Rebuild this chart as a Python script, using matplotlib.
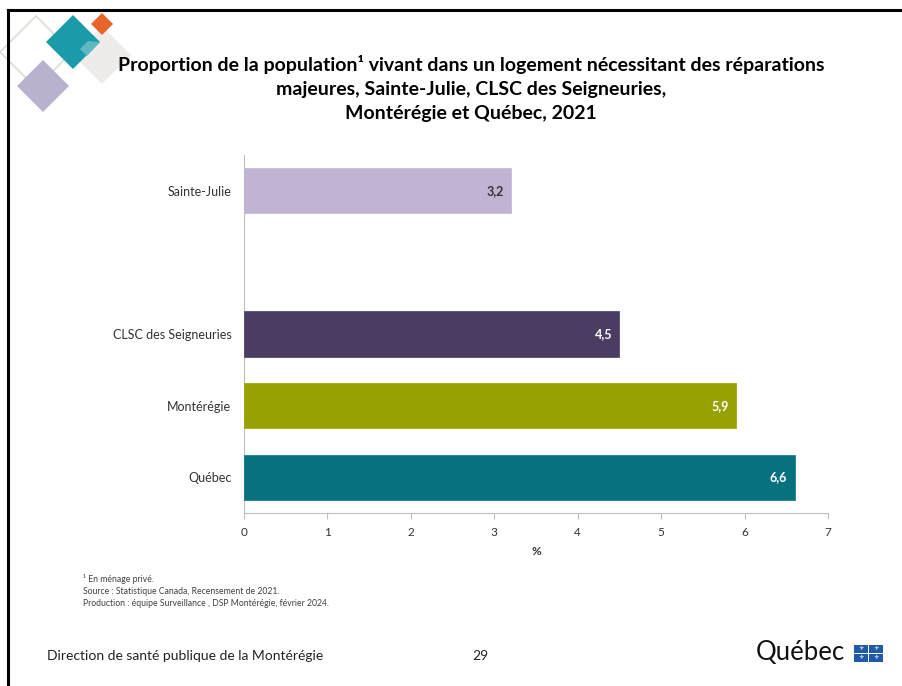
import matplotlib
matplotlib.use("Agg")
import matplotlib.pyplot as plt
from matplotlib.patches import Polygon, Rectangle
from matplotlib.lines import Line2D

categories = ["Québec", "Montérégie", "CLSC des Seigneuries", "Sainte-Julie"]
values = [6.6, 5.9, 4.5, 3.2]
positions = [0, 1, 2, 4]
colors = ["#08717F", "#97A100", "#4B3C61", "#C1B3D3"]
label_colors = ["white", "white", "white", "#333333"]
value_labels = ["6,6", "5,9", "4,5", "3,2"]
xticks = [0, 1, 2, 3, 4, 5, 6, 7]

FONT = "Lato"
W, H = 902, 686
fig = plt.figure(figsize=(W / 100, H / 100), dpi=100)

def px(x, y):
    return (x / W, 1 - y / H)

# decorative diamonds
def diamond(cx, cy, r, fc, ec="none", lw=0, fill=True, z=1):
    pts = [px(cx, cy - r), px(cx + r, cy), px(cx, cy + r), px(cx - r, cy)]
    p = Polygon(pts, closed=True, transform=fig.transFigure, facecolor=fc if fill else "none",
                edgecolor=ec, linewidth=lw, zorder=z)
    fig.add_artist(p)

diamond(36, 52, 36, "none", ec="#d9ddd2", lw=1.2, fill=False, z=1)
diamond(102, 55, 29, "#eeeceb", z=2)
diamond(43, 86, 26, "#b9b1cd", z=3)
diamond(73, 42, 27, "#1b9ba9", z=4)
diamond(102, 24, 11, "#e8652a", z=5)
fig.add_artist(Polygon([px(100, 42), px(87, 56), px(80, 49), px(88, 41)], closed=True,
                       transform=fig.transFigure, facecolor="#5fb9c2", edgecolor="none", zorder=6))

# border lines
fig.add_artist(Line2D([8 / W, 1], [1 - 10 / H, 1 - 10 / H], transform=fig.transFigure,
                      color="black", linewidth=2.2, zorder=10))
fig.add_artist(Line2D([8 / W, 8 / W], [0, 1 - 10 / H], transform=fig.transFigure,
                      color="black", linewidth=2.2, zorder=10))

# axes
left, right = 244 / W, 828 / W
bottom, top = 1 - 513 / H, 1 - 155 / H
ax = fig.add_axes([left, bottom, right - left, top - bottom])
ax.barh(positions, values, height=0.63, color=colors, edgecolor=colors, linewidth=0.5, zorder=3)
for p, v, lab, lc in zip(positions, values, value_labels, label_colors):
    ax.text(v - 0.09, p, lab, ha="right", va="center", color=lc, fontsize=9,
            fontweight="bold", family=FONT, zorder=4)

ax.set_xlim(0, 7)
ax.set_ylim(-0.5, 4.5)
ax.set_xticks(xticks)
ax.set_xticklabels([str(t) for t in xticks], family=FONT, fontsize=8.5, color="#333333")
ax.set_yticks(positions)
ax.set_yticklabels(categories, family=FONT, fontsize=9, color="#333333")
ax.tick_params(axis="y", length=0, pad=9)
ax.tick_params(axis="x", length=4, color="#bfbfbf", width=0.8, pad=6)
for s in ["top", "right"]:
    ax.spines[s].set_visible(False)
ax.spines["left"].set_color("#bfbfbf")
ax.spines["bottom"].set_color("#bfbfbf")
ax.spines["left"].set_linewidth(0.8)
ax.spines["bottom"].set_linewidth(0.8)
ax.set_xlabel("%", family=FONT, fontsize=8.5, fontweight="bold", color="#333333", labelpad=6)

# title
title_lines = ["Proportion de la population¹ vivant dans un logement nécessitant des réparations",
               "majeures, Sainte-Julie, CLSC des Seigneuries,",
               "Montérégie et Québec, 2021"]
for i, line in enumerate(title_lines):
    fig.text(471 / W, 1 - (64 + 25 * i) / H, line, ha="center", va="center",
             family=FONT, fontsize=14, fontweight="bold", color="black")

# footnotes
notes = ["¹ En ménage privé.",
         "Source : Statistique Canada, Recensement de 2021.",
         "Production : équipe Surveillance , DSP Montérégie, février 2024."]
for i, n in enumerate(notes):
    fig.text(83 / W, 1 - (579 + 12.5 * i) / H, n, ha="left", va="center",
             family=FONT, fontsize=6.2, color="#404040")

# footer
fig.text(47 / W, 1 - 656 / H, "Direction de santé publique de la Montérégie", ha="left", va="center",
         family=FONT, fontsize=10, color="#222222")
fig.text(480 / W, 1 - 656 / H, "29", ha="center", va="center", family=FONT, fontsize=10,
         color="#222222")
fig.text(756 / W, 1 - 660 / H, "Québec", ha="left", va="baseline", family=FONT, fontsize=18.5,
         color="#111111")

# flag logo
blue = "#1f5aa6"
for (fx, fy) in [(854, 645), (869, 645), (854, 654), (869, 654)]:
    fig.add_artist(Rectangle((fx / W, 1 - (fy + 7.5) / H), 13.5 / W, 7.5 / H,
                             transform=fig.transFigure, facecolor=blue, edgecolor="none", zorder=5))
    fig.text((fx + 6.75) / W, 1 - (fy + 3.9) / H, "⚜", ha="center", va="center",
             family="DejaVu Sans", fontsize=4.5, color="white", zorder=6)

fig.savefig("out.png", dpi=100)
